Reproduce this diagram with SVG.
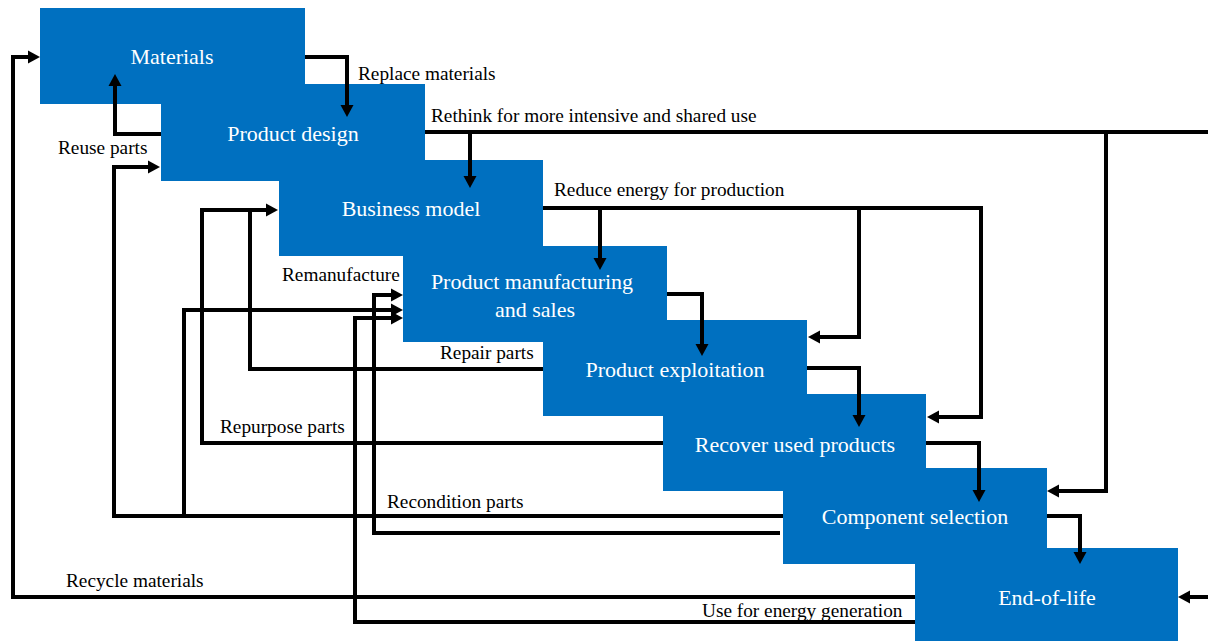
<svg xmlns="http://www.w3.org/2000/svg" width="1208" height="641" viewBox="0 0 1208 641">
  <defs>
    <marker id="arrow" markerUnits="userSpaceOnUse" markerWidth="12" markerHeight="13" refX="4" refY="6.5" orient="auto" overflow="visible">
      <path d="M0,0 L12,6.5 L0,13 Z" fill="#000"/>
    </marker>
    <style>
      .box { fill: #0070C0; }
      .btxt { font-family: "Liberation Serif", "Times New Roman", serif; font-size: 22px; fill: #fff; text-anchor: middle; }
      .lbl { font-family: "Liberation Serif", "Times New Roman", serif; font-size: 19.3px; fill: #000; }
      .wire { fill: none; stroke: #000; stroke-width: 4; stroke-linejoin: miter; }
      .arr { marker-end: url(#arrow); }
    </style>
  </defs>
  <rect width="1208" height="641" fill="#fff"/>

  <!-- lifecycle stages, cascading down to the right -->
  <g id="materials">
    <rect class="box" x="40" y="8" width="265" height="96"/>
    <text class="btxt" x="172" y="64">Materials</text>
  </g>
  <g id="product-design">
    <rect class="box" x="161" y="84" width="264" height="97"/>
    <text class="btxt" x="293" y="141">Product design</text>
  </g>
  <g id="business-model">
    <rect class="box" x="279" y="160" width="264" height="96"/>
    <text class="btxt" x="411" y="216">Business model</text>
  </g>
  <g id="product-manufacturing">
    <rect class="box" x="403" y="246" width="264" height="96"/>
    <text class="btxt" x="532" y="289">Product manufacturing</text>
    <text class="btxt" x="535" y="317">and sales</text>
  </g>
  <g id="product-exploitation">
    <rect class="box" x="543" y="320" width="264" height="96"/>
    <text class="btxt" x="675" y="377">Product exploitation</text>
  </g>
  <g id="recover-used-products">
    <rect class="box" x="663" y="394" width="263" height="97"/>
    <text class="btxt" x="795" y="452">Recover used products</text>
  </g>
  <g id="component-selection">
    <rect class="box" x="783" y="468" width="264" height="96"/>
    <text class="btxt" x="915" y="524">Component selection</text>
  </g>
  <g id="end-of-life">
    <rect class="box" x="915" y="548" width="263" height="96"/>
    <text class="btxt" x="1047" y="605">End-of-life</text>
  </g>

  <!-- connectors -->
  <g id="connectors">
    <!-- forward flow between stages -->
    <path class="wire arr" d="M305,57 H347 V109"/>
    <path class="wire arr" d="M667,294 H702 V348"/>
    <path class="wire arr" d="M807,368 H859 V419"/>
    <path class="wire arr" d="M926,443 H979 V494"/>
    <path class="wire arr" d="M1047,516 H1080 V556"/>

    <!-- design back to materials -->
    <path class="wire arr" d="M161,134 H115 V82"/>

    <!-- rethink for shared use -->
    <path class="wire" d="M425,132 H1208"/>
    <path class="wire arr" d="M470,132 V180"/>
    <path class="wire arr" d="M1106,132 V491 H1055"/>
    <path class="wire arr" d="M1208,597 H1186"/>

    <!-- reduce energy for production -->
    <path class="wire arr" d="M543,208 H981 V417 H935"/>
    <path class="wire arr" d="M600,208 V262"/>
    <path class="wire arr" d="M859,208 V337 H816"/>

    <!-- loops back from later stages -->
    <path class="wire arr" d="M783,516 H114 V167 H152"/>
    <path class="wire arr" d="M184,516 V310 H395"/>
    <path class="wire arr" d="M780,533 H374 V295 H395"/>
    <path class="wire arr" d="M915,622 H355 V318 H395"/>
    <path class="wire arr" d="M915,597 H13 V57 H32"/>
    <path class="wire arr" d="M663,443 H202 V210 H270"/>
    <path class="wire" d="M543,369 H250 V210"/>
  </g>

  <!-- connector labels -->
  <g id="labels">
    <text class="lbl" x="358" y="80">Replace materials</text>
    <text class="lbl" x="431" y="122">Rethink for more intensive and shared use</text>
    <text class="lbl" x="58" y="154">Reuse parts</text>
    <text class="lbl" x="554" y="196">Reduce energy for production</text>
    <text class="lbl" x="282" y="281">Remanufacture</text>
    <text class="lbl" x="440" y="359">Repair parts</text>
    <text class="lbl" x="220" y="433">Repurpose parts</text>
    <text class="lbl" x="387" y="508">Recondition parts</text>
    <text class="lbl" x="66" y="587">Recycle materials</text>
    <text class="lbl" x="702" y="617">Use for energy generation</text>
  </g>
</svg>
